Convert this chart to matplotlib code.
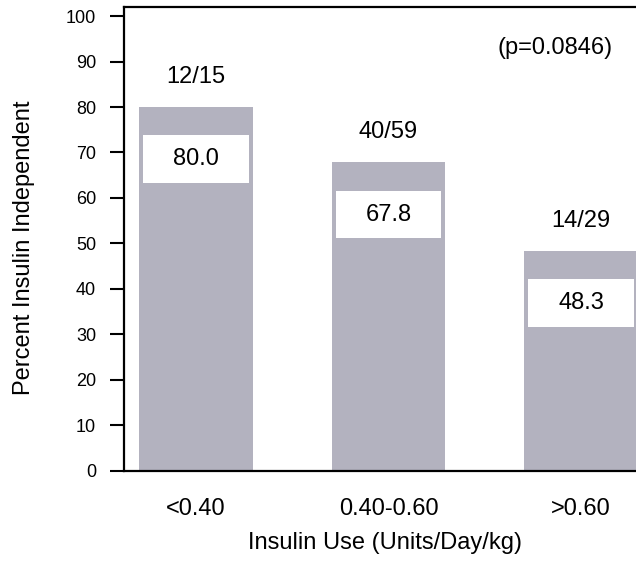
import matplotlib
matplotlib.use("Agg")
import matplotlib.pyplot as plt

plt.rcParams['font.family'] = ['Liberation Sans', 'DejaVu Sans']

categories = ["<0.40", "0.40-0.60", ">0.60"]
percent = [80.0, 67.8, 48.3]
n_indep = [12, 40, 14]
n_total = [15, 59, 29]
y_ticks = [0, 10, 20, 30, 40, 50, 60, 70, 80, 90, 100]
p_text = "(p=0.0846)"

bar_color = "#B3B2BF"

fig = plt.figure(figsize=(6.36, 5.61), dpi=100)
W, H = 636, 561
left, right, top, bottom = 124, 646, 7, 470.7
ax = fig.add_axes([left / W, (H - bottom) / H, (right - left) / W, (bottom - top) / H])

x = list(range(len(categories)))
ax.bar(x, percent, width=0.59, color=bar_color, zorder=2)
# white value boxes inside the bars
box_bottom = [v - 16.7 for v in percent]
ax.bar(x, [10.5] * len(x), bottom=box_bottom, width=0.55, color="white", zorder=3)

for xi, v, a, b in zip(x, percent, n_indep, n_total):
    ax.text(xi, v - 11.45, f"{v:.1f}", ha="center", va="center", fontsize=17, zorder=4)
    ax.text(xi, v + 6.6, f"{a}/{b}", ha="center", va="center", fontsize=17, zorder=4)

ax.text(1.865, 92.9, p_text, ha="center", va="center", fontsize=17)

ax.set_xlim(-0.374, 2.338)
ax.set_ylim(0, 102)
ax.set_yticks(y_ticks)
ax.set_xticks(x)
ax.set_xticklabels(categories)
ax.tick_params(axis="y", length=10, width=1.5, pad=10, labelsize=13, direction="out")
ax.tick_params(axis="x", length=0, pad=20, labelsize=17)

for s in ["left", "top", "bottom"]:
    ax.spines[s].set_linewidth(1.6)
    ax.spines[s].set_color("black")
ax.spines["right"].set_visible(False)

fig.text(385 / W, 1 - 543 / H, "Insulin Use (Units/Day/kg)", ha="center", va="center", fontsize=17)
fig.text(24 / W, 1 - 248 / H, "Percent Insulin Independent", ha="center", va="center",
         rotation=90, fontsize=17)

fig.savefig("out.png", dpi=100)
